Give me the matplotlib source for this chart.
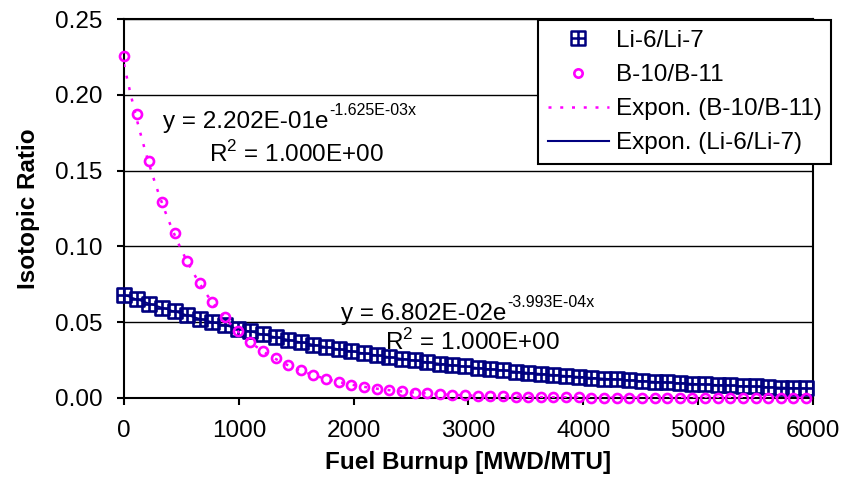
import numpy as np
import matplotlib
matplotlib.use("Agg")
import matplotlib.pyplot as plt
from matplotlib.path import Path
from matplotlib.lines import Line2D

plt.rcParams['font.family'] = ['Liberation Sans', 'DejaVu Sans']
plt.rcParams['mathtext.fontset'] = 'custom'
plt.rcParams['mathtext.rm'] = 'Liberation Sans'

# Burnup steps (MWD/MTU)
burnup = [0, 110, 220, 330, 440, 550, 660, 770, 880, 990,
          1100, 1210, 1320, 1430, 1540, 1650, 1760, 1870, 1980, 2090,
          2200, 2310, 2420, 2530, 2640, 2750, 2860, 2970, 3080, 3190,
          3300, 3410, 3520, 3630, 3740, 3850, 3960, 4070, 4180, 4290,
          4400, 4510, 4620, 4730, 4840, 4950, 5060, 5170, 5280, 5390,
          5500, 5610, 5720, 5830, 5940]

li_ratio = [0.0680, 0.0651, 0.0623, 0.0596, 0.0571, 0.0546, 0.0523, 0.0500, 0.0479, 0.0458,
            0.0439, 0.0420, 0.0402, 0.0384, 0.0368, 0.0352, 0.0337, 0.0322, 0.0309, 0.0295,
            0.0283, 0.0271, 0.0259, 0.0248, 0.0237, 0.0227, 0.0217, 0.0208, 0.0199, 0.0190,
            0.0182, 0.0174, 0.0167, 0.0160, 0.0153, 0.0146, 0.0140, 0.0134, 0.0128, 0.0123,
            0.0117, 0.0112, 0.0108, 0.0103, 0.0099, 0.0094, 0.0090, 0.0086, 0.0083, 0.0079,
            0.0076, 0.0073, 0.0069, 0.0066, 0.0064]

b_ratio = [0.2257, 0.1875, 0.1561, 0.1296, 0.1090, 0.0905, 0.0757, 0.0630, 0.0533, 0.0441,
           0.0370, 0.0310, 0.0263, 0.0217, 0.0182, 0.0152, 0.0127, 0.0106, 0.0089, 0.0074,
           0.0062, 0.0052, 0.0043, 0.0036, 0.0030, 0.0025, 0.0021, 0.0018, 0.0015, 0.0012,
           0.0010, 0.0009, 0.0007, 0.0006, 0.0005, 0.0004, 0.0004, 0.0003, 0.0003, 0.0002,
           0.0002, 0.0002, 0.0001, 0.0001, 0.0001, 0.0001, 0.0001, 0.0001, 0.0000, 0.0000,
           0.0000, 0.0000, 0.0000, 0.0000, 0.0000]

# Exponential trendline parameters  y = a * exp(b * x)
b_fit = (2.202E-01, -1.625E-03)
li_fit = (6.802E-02, -3.993E-04)

x_ticks = [0, 1000, 2000, 3000, 4000, 5000, 6000]
y_ticks = [0.00, 0.05, 0.10, 0.15, 0.20, 0.25]

NAVY = '#000080'
MAGENTA = '#FF00FF'
FS = 17.5

# square marker with a cross inside
boxplus = Path(
    [(-1, -1), (1, -1), (1, 1), (-1, 1), (-1, -1),
     (0, -1), (0, 1), (-1, 0), (1, 0)],
    [Path.MOVETO, Path.LINETO, Path.LINETO, Path.LINETO, Path.CLOSEPOLY,
     Path.MOVETO, Path.LINETO, Path.MOVETO, Path.LINETO])

fig = plt.figure(figsize=(8.45, 4.87), dpi=100)
ax = fig.add_axes([124 / 845, 1 - 398 / 487, 689 / 845, 379 / 487])

xs = np.array(burnup, dtype=float)
xf = np.linspace(xs[0], xs[-1], 400)

ax.plot(xf, li_fit[0] * np.exp(li_fit[1] * xf), color=NAVY, lw=1.2, zorder=3)
ax.plot(xs, li_ratio, linestyle='none', marker=boxplus, markersize=10.5,
        markerfacecolor='none', markeredgecolor=NAVY, markeredgewidth=1.9,
        clip_on=False, zorder=4)
ax.plot(xs, b_ratio, linestyle='none', marker='o', markersize=6.5,
        markerfacecolor='none', markeredgecolor=MAGENTA, markeredgewidth=1.9,
        clip_on=False, zorder=5)
ax.plot(xf, b_fit[0] * np.exp(b_fit[1] * xf), color=MAGENTA, lw=1.8,
        linestyle=(0, (1.2, 3.5)), zorder=6)

ax.set_xlim(0, 6000)
ax.set_ylim(0, 0.25)
ax.set_xticks(x_ticks)
ax.set_xticklabels([str(v) for v in x_ticks])
ax.set_yticks(y_ticks)
ax.set_yticklabels([f"{v:.2f}" for v in y_ticks])
ax.yaxis.grid(True, color='black', lw=1.0)
ax.set_axisbelow(True)
for s in ax.spines.values():
    s.set_linewidth(1.5)
ax.tick_params(axis='both', labelsize=FS, width=1.5, length=5, pad=10.5, direction='out')

ax.set_xlabel('Fuel Burnup [MWD/MTU]', fontsize=FS, fontweight='bold', labelpad=7)
ax.set_ylabel('Isotopic Ratio', fontsize=FS, fontweight='bold', labelpad=11)


def equation(x, y, a, b, r2_x, r2_y):
    t = ax.text(x, y, f"y = {a:.3E}e", fontsize=FS,
                ha='left', va='baseline', zorder=7)
    ax.annotate(f"{b:.3E}x", xy=(1, 0), xycoords=t, xytext=(0.5, 13),
                textcoords='offset points', fontsize=11.5, ha='left', va='baseline', zorder=7)
    ax.text(r2_x, r2_y, r"R$^{\mathregular{2}}$ = 1.000E+00", fontsize=FS,
            ha='left', va='baseline', zorder=7)


equation(339, 0.1783, b_fit[0], b_fit[1], 740, 0.1555)
equation(1887, 0.0515, li_fit[0], li_fit[1], 2270, 0.0316)

handles = [
    Line2D([], [], linestyle='none', marker=boxplus, markersize=10,
           markerfacecolor='none', markeredgecolor=NAVY, markeredgewidth=1.8),
    Line2D([], [], linestyle='none', marker='o', markersize=6,
           markerfacecolor='none', markeredgecolor=MAGENTA, markeredgewidth=1.9),
    Line2D([], [], color=MAGENTA, lw=1.8, linestyle=(0, (1.2, 3.5))),
    Line2D([], [], color=NAVY, lw=1.5),
]
labels = ['Li-6/Li-7', 'B-10/B-11', 'Expon. (B-10/B-11)', 'Expon. (Li-6/Li-7)']
leg = ax.legend(handles, labels, loc='upper left', bbox_to_anchor=(0.601, 0.997),
                borderaxespad=0, fontsize=FS, frameon=True, fancybox=False,
                framealpha=1, edgecolor='black', handlelength=2.5,
                handletextpad=0.3, labelspacing=0.5, borderpad=0.4)
leg.get_frame().set_linewidth(1.5)
leg.set_zorder(10)

fig.savefig('out.png', dpi=100)
